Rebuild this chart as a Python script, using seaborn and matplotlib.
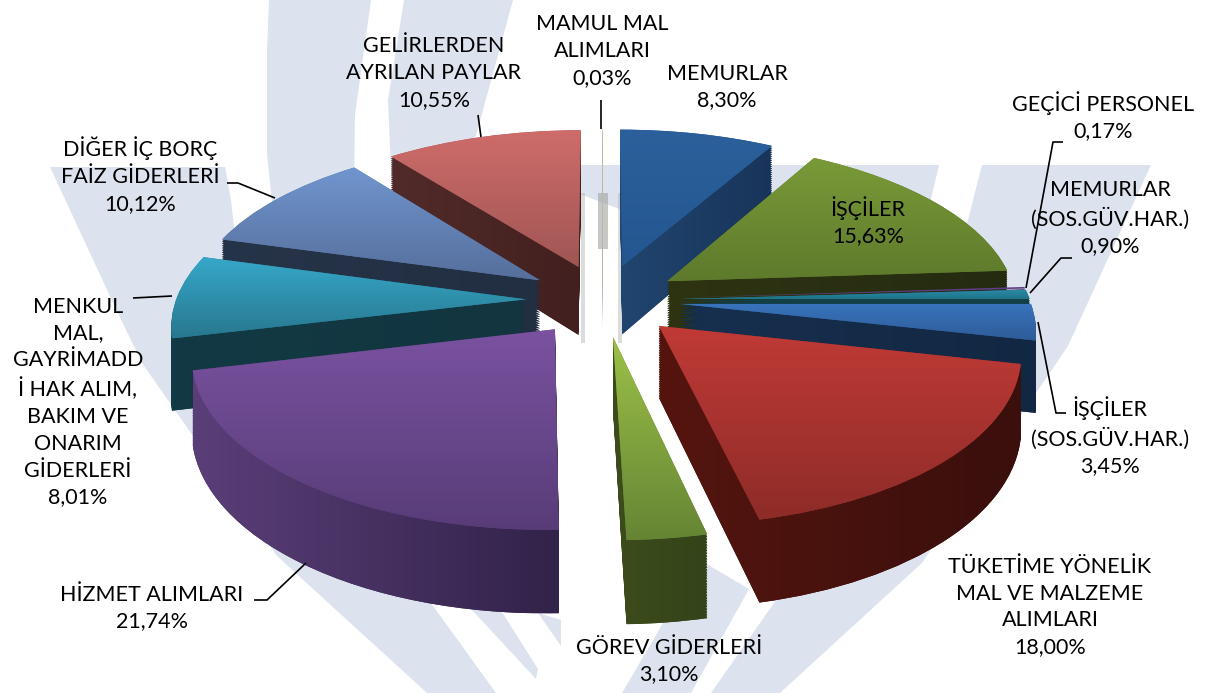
import numpy as np
import matplotlib
matplotlib.use("Agg")
import matplotlib.pyplot as plt
from matplotlib.transforms import Transform
from matplotlib.path import Path
from matplotlib.patches import Polygon, Rectangle
import seaborn as sns

# ---------- data ----------
labels = ["MEMURLAR\n8,30%", "İŞÇİLER\n15,63%", "GEÇİCİ PERSONEL\n0,17%",
          "MEMURLAR\n(SOS.GÜV.HAR.)\n0,90%", "İŞÇİLER\n(SOS.GÜV.HAR.)\n3,45%",
          "TÜKETİME YÖNELİK\nMAL VE MALZEME\nALIMLARI\n18,00%", "GÖREV GİDERLERİ\n3,10%",
          "HİZMET ALIMLARI\n21,74%",
          "MENKUL\nMAL,\nGAYRİMADD\nİ HAK ALIM,\nBAKIM VE\nONARIM\nGİDERLERİ\n8,01%",
          "DİĞER İÇ BORÇ\nFAİZ GİDERLERİ\n10,12%", "GELİRLERDEN\nAYRILAN PAYLAR\n10,55%",
          "MAMUL MAL\nALIMLARI\n0,03%"]
values = [8.30, 15.63, 0.17, 0.90, 3.45, 18.00, 3.10, 21.74, 8.01, 10.12, 10.55, 0.03]

# ---------- styles ----------
top_hi = ["#2B609C", "#7A9A38", "#5F4088", "#2A8CA8", "#3873BC", "#C03A36", "#9CC048", "#7A52A0", "#36A8CA", "#7095CE", "#CE6C6A", "#C0C8A0"]
top_lo = ["#245790", "#5E7A2C", "#5F4088", "#1F7488", "#2E5C98", "#8E2C28", "#668534", "#583C78", "#28788F", "#566F9C", "#A05654", "#C0C8A0"]
side_l = ["#20456F", "#2E3412", "#3A2850", "#123F48", "#17304F", "#55150F", "#3C4C1A", "#5A3E78", "#123A44", "#263449", "#512B29", "#B0B8A0"]
side_r = ["#19345A", "#252B10", "#3A2850", "#123F48", "#122742", "#3A0F0C", "#34441A", "#32234A", "#123540", "#222E42", "#42201F", "#B0B8A0"]
label_pos = [(727, 87), (868, 221), (1103, 116), (1110, 218), (1110, 436), (1050, 607),
             (669, 661), (152, 608), (78, 402), (140, 175), (434, 73), (602, 51)]
leaders = [[(478, 115), (481, 137)], [(601, 100), (601, 129)],
           [(227, 183), (238, 183), (275, 198)], [(133, 298), (172, 296)],
           [(254, 600), (267, 600), (306, 563)],
           [(1063, 142), (1053, 142), (1026, 288)],
           [(1072, 258), (1061, 258), (1030, 293)],
           [(1038, 322), (1056, 413), (1066, 413)]]
watermark = [
    [(50, 167), (225, 167), (231, 200), (238, 262), (330, 450), (431, 603), (496, 693), (427, 693), (277, 556), (200, 446), (142, 363), (115, 307)],
    [(269, 0), (371, 0), (355, 115), (354, 192), (354, 300), (275, 231), (267, 154), (267, 50)],
    [(404, 0), (513, 0), (471, 154), (480, 300), (392, 193), (388, 100)],
    [(471, 609), (500, 609), (538, 669), (536, 679)],
    [(538, 613), (561, 620), (561, 646)],
    [(577, 165), (939, 165), (926, 220), (880, 330), (622, 210), (577, 193)],
    [(982, 165), (1151, 165), (1068, 346), (1034, 396), (922, 563), (780, 693), (711, 693), (860, 480), (968, 220)],
    [(749, 589), (691, 693), (622, 693), (700, 560)],
]
WM = "#DDE3EE"
CX, CY, SX, A, B, DEPTH = 603, 300, 350, 164, 0.138, 70
EXPL = 0.22


class Persp(Transform):
    """Tilted-disc projection of the unit pie into the picture."""
    input_dims = output_dims = 2
    is_separable = False
    has_inverse = False

    def __init__(self, z=0.0):
        super().__init__()
        self.z = z

    def transform_non_affine(self, xy):
        xy = np.asarray(xy, float)
        w = 1 + B * xy[:, 1]
        return np.column_stack([CX + SX * xy[:, 0] / w,
                                CY - A * xy[:, 1] / w + self.z * DEPTH / w])


sns.set_theme(style="white")
plt.rcParams["font.family"] = ["Lato", "DejaVu Sans"]
fig = plt.figure(figsize=(12.07, 6.93), dpi=100, facecolor="white")
ax = fig.add_axes([0, 0, 1, 1])

for poly in watermark:
    ax.add_patch(Polygon(poly, closed=True, fc=WM, ec="none", zorder=0))
ax.add_patch(Rectangle((598, 193), 10, 56, fc="#9A9A9A", alpha=.55, ec="none", zorder=0.5))
ax.add_patch(Rectangle((581, 193), 4, 150, fc="#A8A8A8", alpha=.4, ec="none", zorder=0.5))
ax.add_patch(Rectangle((618, 193), 4, 150, fc="#A8A8A8", alpha=.4, ec="none", zorder=0.5))

levels = np.linspace(1.0, 0.0, 31)
pies = []
for z in levels:
    w, _ = ax.pie(values, explode=[EXPL] * len(values), startangle=90, counterclock=False,
                  radius=1, wedgeprops=dict(linewidth=0))
    pies.append((z, w))

fr = np.array(values) / sum(values)
mid = (np.cumsum(fr) - fr / 2) * 2 * np.pi
order = np.argsort(-np.cos(mid))
rank = {i: r for r, i in enumerate(order)}


def gradient(i, c0, c1, horizontal, path, zorder):
    ext = path.get_extents()
    ramp = np.array(sns.blend_palette([c0, c1], 64))
    arr = ramp[None, :, :] if horizontal else ramp[:, None, :]
    im = ax.imshow(arr, extent=[ext.x0, ext.x1, ext.y1, ext.y0], aspect="auto",
                   interpolation="bilinear", zorder=zorder)
    im.set_clip_path(path, ax.transData)


for i in range(len(values)):
    zbase = 1 + rank[i]
    paths = []
    for z, w in pies:
        t = Persp(z)
        w[i].set_transform(t + ax.transData)
        w[i].set_zorder(zbase + (0.1 if z > 0 else 0.5))
        w[i].set_facecolor(side_r[i] if z > 0 else top_lo[i])
        paths.append(t.transform_path(w[i].get_path()))
    side = Path.make_compound_path(*paths[:-1])
    top = paths[-1]
    if values[i] > 0.5:
        gradient(i, side_l[i], side_r[i], True, side, zbase + 0.2)
        gradient(i, top_hi[i], top_lo[i], False, top, zbase + 0.6)

for seg in leaders:
    xs, ys = zip(*seg)
    ax.plot(xs, ys, color="black", lw=1.2, zorder=50, solid_capstyle="butt")

for txt, (x, y) in zip(labels, label_pos):
    ax.text(x, y, txt, ha="center", va="center", fontsize=15.5, color="black",
            linespacing=1.42, multialignment="center", zorder=60)

ax.set_aspect("auto")
ax.set_xlim(0, 1207)
ax.set_ylim(693, 0)
ax.set_axis_off()
fig.savefig("out.png", dpi=100)
